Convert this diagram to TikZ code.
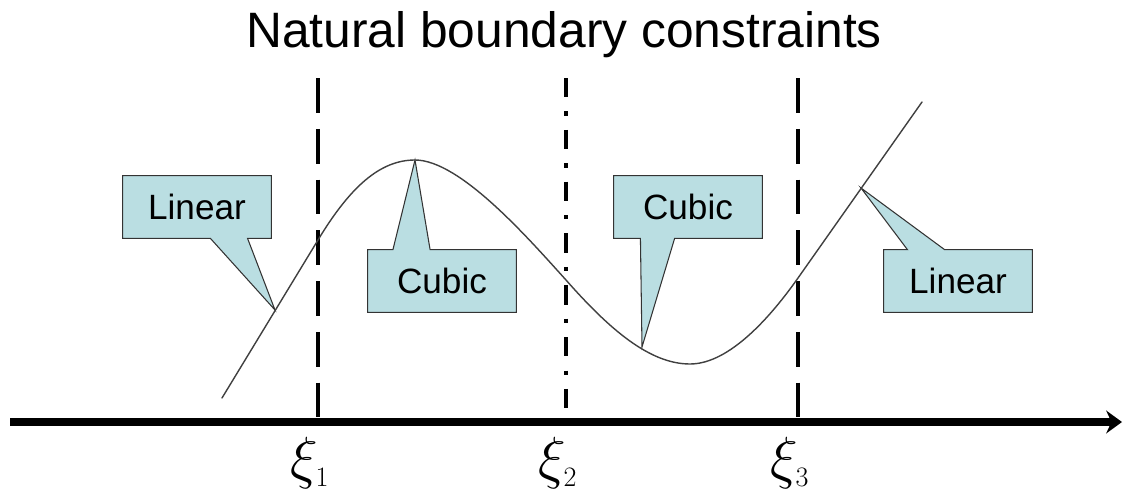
\RequirePackage{fix-cm}
\documentclass[tikz,border=0pt]{standalone}
\usepackage{fontspec}
\newfontfamily\arial{Liberation Sans}
\usetikzlibrary{arrows.meta,calc,backgrounds}

\definecolor{bubblefill}{RGB}{186,222,226}

\tikzset{
  bubble/.style={fill=bubblefill, draw=black!80, line width=0.6pt, line join=miter},
  bubbletext/.style={font=\arial\fontsize{20}{24}\selectfont, minimum width=2.96cm,
                     minimum height=1.24cm, inner sep=0pt},
  knot/.style={line width=2.3pt, dash pattern=on 19.8pt off 9.1pt},
  knotmid/.style={line width=2.3pt, dash pattern=on 11pt off 8pt on 2.5pt off 8pt},
  xilabel/.style={font=\fontsize{33}{40}\selectfont}
}

% callout: #1 node, #2/#3 base of the pointer (fraction of the edge), #4 tip
\newcommand{\bubbledown}[4]{%
  \draw[bubble] (#1.north west) -- (#1.north east) -- (#1.south east)
    -- ($(#1.south west)!#3!(#1.south east)$) -- (#4)
    -- ($(#1.south west)!#2!(#1.south east)$) -- (#1.south west) -- cycle;}
\newcommand{\bubbleup}[4]{%
  \draw[bubble] (#1.south west) -- (#1.south east) -- (#1.north east)
    -- ($(#1.north west)!#3!(#1.north east)$) -- (#4)
    -- ($(#1.north west)!#2!(#1.north east)$) -- (#1.north west) -- cycle;}

\newcommand{\xisub}[1]{$\xi_{\hbox{\fontsize{16}{16}\selectfont #1}}$}

\begin{document}
\begin{tikzpicture}[x=0.02cm, y=-0.02cm, line cap=butt]
  \useasboundingbox (0,0) rectangle (1126,490);

  \node[font=\arial\fontsize{28.3}{34}\selectfont, anchor=base] (title) at (564,48)
    {Natural boundary constraints};

  % axis
  \coordinate (ax0) at (10,422);
  \coordinate (ax1) at (1122,422);
  \draw[line width=4pt, -{Stealth[length=9pt, width=13pt, inset=3pt]}] (ax0) -- (ax1);

  % knots
  \coordinate (top1) at (318,78);
  \coordinate (top2) at (566,78);
  \coordinate (top3) at (798,78);
  \draw[knot]    (top1) -- (top1 |- ax0);
  \draw[knotmid] (top2) -- (top2 |- ax0);
  \draw[knot]    (top3) -- (top3 |- ax0);

  \node[xilabel] (xi1) at (310,463) {\xisub{1}};
  \node[xilabel] (xi2) at (558,463) {\xisub{2}};
  \node[xilabel] (xi3) at (790,463) {\xisub{3}};

  % spline
  \coordinate (s0) at (222,398);
  \coordinate (k1) at (318,240);
  \coordinate (peak) at (415,160);
  \coordinate (k2) at (566,280);
  \coordinate (trough) at (690,364);
  \coordinate (k3) at (798,278);
  \coordinate (s1) at (922,102);
  \draw[black!75, line width=0.8pt, line cap=round]
    (s0) -- (k1)
    .. controls (350,187) and (380,160) .. (peak)
    .. controls (460,160) and (528,238) .. (k2)
    .. controls (610,330) and (650,364) .. (trough)
    .. controls (730,364) and (772,315) .. (k3)
    -- (s1);

  % callouts
  \coordinate (tip1) at (275,310);
  \coordinate (tip2) at (415,160);
  \coordinate (tip3) at (642,347);
  \coordinate (tip4) at (861,188);

  \node[bubbletext] (lin1) at (197,207) {Linear};
  \node[bubbletext] (cub1) at (442,281) {Cubic};
  \node[bubbletext] (cub2) at (688,207) {Cubic};
  \node[bubbletext] (lin2) at (958,281) {Linear};

  \begin{scope}[on background layer]
    \bubbledown{lin1}{0.59}{0.84}{tip1}
    \bubbleup{cub1}{0.17}{0.42}{tip2}
    \bubbledown{cub2}{0.18}{0.41}{tip3}
    \bubbleup{lin2}{0.16}{0.41}{tip4}
  \end{scope}
\end{tikzpicture}
\end{document}
